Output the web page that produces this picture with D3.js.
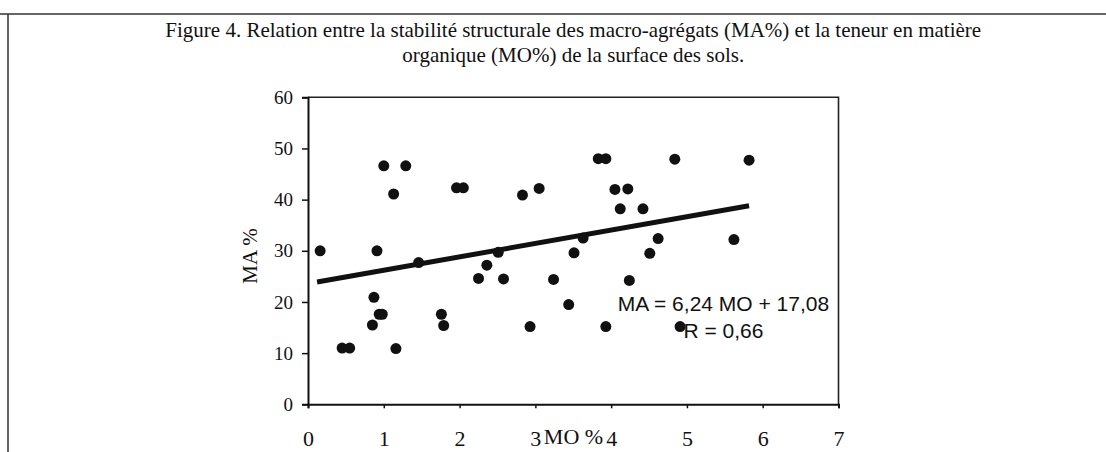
<!DOCTYPE html>
<html>
<head>
<meta charset="utf-8">
<script src="https://cdn.jsdelivr.net/npm/d3@7"></script>
<style>
  html, body { margin: 0; padding: 0; background: #fff; }
  svg { display: block; }
</style>
</head>
<body>
<svg id="chart" width="1106" height="452"></svg>
<script>
// ---- data ----
const titleLines = [
  "Figure 4. Relation entre la stabilité structurale des macro-agrégats (MA%) et la teneur en matière",
  "organique (MO%) de la surface des sols."
];
const moValues = [0.16, 0.91, 1.00, 1.13, 1.29, 1.46, 1.96, 2.05, 2.36, 2.51, 2.25, 2.58, 2.83, 3.05,
  3.83, 3.93, 4.84, 5.82, 4.05, 4.22, 4.12, 4.42, 3.63, 3.51, 4.62, 4.51, 5.62, 3.24, 4.24, 3.44,
  2.93, 3.93, 4.91, 0.45, 0.55, 0.87, 0.85, 0.94, 0.98, 1.16, 1.76, 1.79];
const maValues = [30.0, 30.0, 46.6, 41.1, 46.6, 27.7, 42.3, 42.3, 27.2, 29.7, 24.6, 24.5, 40.9, 42.2,
  48.0, 48.0, 47.9, 47.7, 42.0, 42.1, 38.2, 38.2, 32.5, 29.6, 32.4, 29.5, 32.2, 24.4, 24.2, 19.5,
  15.2, 15.2, 15.2, 11.0, 11.0, 20.9, 15.5, 17.6, 17.6, 10.9, 17.6, 15.4];
const trendMO = [0.12, 5.82];
const trendMA = [23.9, 38.8];
const xTicks = [0, 1, 2, 3, 4, 5, 6, 7];
const xTickLabels = ["0", "1", "2", "3", "4", "5", "6", "7"];
const yTicks = [0, 10, 20, 30, 40, 50, 60];
const xTitle = "MO %";
const yTitle = "MA %";
const equationLines = ["MA = 6,24 MO + 17,08", "R = 0,66"];

// ---- layout ----
const svg = d3.select("#chart");
const pLeft = 308, pRight = 838.5, pTop = 97.3, pBottom = 404.3;
const x = d3.scaleLinear().domain([0, 7]).range([pLeft, pRight]);
const y = d3.scaleLinear().domain([0, 60]).range([pBottom, pTop]);
const ink = "#111";
const serif = "'Liberation Serif', 'Times New Roman', serif";
const sans = "'Liberation Sans', Arial, sans-serif";

// outer frame (top and left edges of the figure box)
svg.append("line").attr("x1", 0).attr("x2", 1106).attr("y1", 14).attr("y2", 14)
  .attr("stroke", "#333").attr("stroke-width", 1.5);
svg.append("line").attr("x1", 8).attr("x2", 8).attr("y1", 14).attr("y2", 452)
  .attr("stroke", "#333").attr("stroke-width", 1.5);

// title
svg.append("g").selectAll("text").data(titleLines).join("text")
  .attr("x", (pLeft + pRight) / 2)
  .attr("y", (d, i) => 37 + i * 25)
  .attr("text-anchor", "middle")
  .attr("font-family", serif)
  .attr("font-size", 21)
  .attr("fill", ink)
  .text(d => d);

// plot area frame (top and right)
svg.append("path")
  .attr("d", `M${pLeft},${pTop}H${pRight}V${pBottom}`)
  .attr("fill", "none").attr("stroke", "#222").attr("stroke-width", 1.6);

// y axis
const yAxis = svg.append("g")
  .attr("transform", `translate(${pLeft},0)`)
  .call(d3.axisLeft(y).tickValues(yTicks).tickSize(6).tickPadding(9).tickFormat(d3.format("d")));
yAxis.select(".domain").attr("stroke", ink).attr("stroke-width", 2);
yAxis.selectAll(".tick line").attr("stroke", ink).attr("stroke-width", 1.5);
yAxis.selectAll(".tick text").attr("font-family", serif).attr("font-size", 19).attr("fill", ink);

// x axis
const xAxis = svg.append("g")
  .attr("transform", `translate(0,${pBottom})`)
  .call(d3.axisBottom(x).tickValues(xTicks).tickSize(4).tickPadding(22)
    .tickFormat((d, i) => xTickLabels[i]));
xAxis.select(".domain").attr("stroke", ink).attr("stroke-width", 2);
xAxis.selectAll(".tick line").attr("stroke", ink).attr("stroke-width", 1.5);
xAxis.selectAll(".tick text").attr("font-family", serif).attr("font-size", 22).attr("fill", ink);

// axis titles
svg.append("text")
  .attr("x", 573.5).attr("y", 444)
  .attr("text-anchor", "middle")
  .attr("font-family", serif).attr("font-size", 22).attr("fill", ink)
  .text(xTitle);
svg.append("text")
  .attr("transform", `translate(257,${y(29)}) rotate(-90)`)
  .attr("text-anchor", "middle")
  .attr("font-family", serif).attr("font-size", 21).attr("fill", ink)
  .text(yTitle);

// trend line
const pts = trendMO.map((m, i) => [m, trendMA[i]]);
svg.append("path")
  .attr("d", d3.line().x(d => x(d[0])).y(d => y(d[1]))(pts))
  .attr("fill", "none").attr("stroke", ink).attr("stroke-width", 5).attr("stroke-linecap", "butt");

// scatter points
svg.append("g").selectAll("circle").data(moValues.map((m, i) => [m, maValues[i]])).join("circle")
  .attr("cx", d => x(d[0]))
  .attr("cy", d => y(d[1]))
  .attr("r", 5.5)
  .attr("fill", ink);

// equation label
svg.append("g").selectAll("text").data(equationLines).join("text")
  .attr("x", 723.5)
  .attr("y", (d, i) => 310.5 + i * 27.5)
  .attr("text-anchor", "middle")
  .attr("font-family", sans)
  .attr("font-size", 21)
  .attr("fill", ink)
  .text(d => d);
</script>
</body>
</html>
